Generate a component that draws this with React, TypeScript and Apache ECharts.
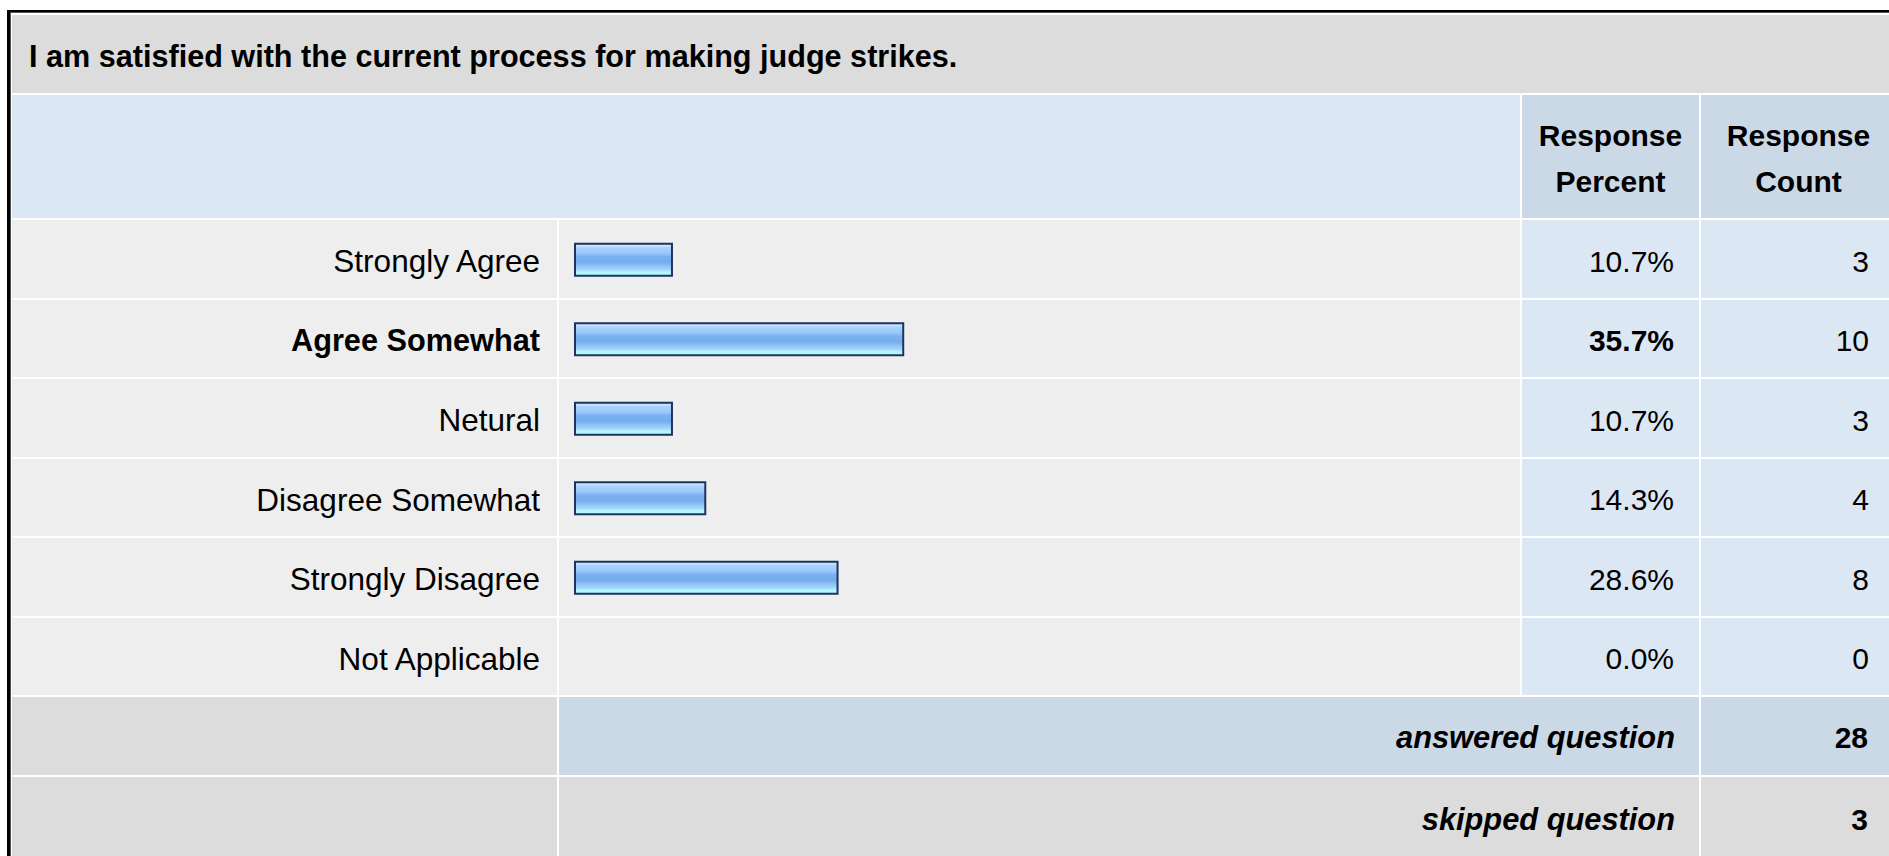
import React, { useEffect, useRef } from "react";
import * as echarts from "echarts";

const titleText = "I am satisfied with the current process for making judge strikes.";
const headerPercent = "Response\nPercent";
const headerCount = "Response\nCount";
const categories = [
  "Strongly Agree",
  "Agree Somewhat",
  "Netural",
  "Disagree Somewhat",
  "Strongly Disagree",
  "Not Applicable",
];
const percents = [10.7, 35.7, 10.7, 14.3, 28.6, 0.0];
const counts = [3, 10, 3, 4, 8, 0];
const answeredLabel = "answered question";
const skippedLabel = "skipped question";
const answeredCount = 28;
const skippedCount = 3;

const FONT = "'Liberation Sans', Arial, Helvetica, sans-serif";
const FS = 30;
const FS_LABEL = 31.5;
const FS_LABEL_BOLD = 30.7;
const FS_TITLE = 30.6;
const FS_FOOT = 30.8;

// layout
const X_LABEL = [12, 557];
const X_BAR = [559, 1520];
const X_PCT = [1522, 1699];
const X_CNT = [1701, 1896];
const TITLE_Y = [15, 93];
const HEAD_Y = [95, 218];
const ROW0 = 220;
const PITCH = 79.5;
const GAP = 2;

const C_TITLE = "#dcdcdc";
const C_HEAD = "#dce7f4";
const C_HEAD_DARK = "#cbd8e6";
const C_ROW = "#eeeeee";
const C_ROW_BLUE = "#dce7f4";

export default function App() {
  const ref = useRef<HTMLDivElement>(null);
  useEffect(() => {
    if (!ref.current) return;
    const chart = echarts.init(ref.current, undefined, { renderer: "svg" });
    const maxIdx = percents.indexOf(Math.max(...percents));

    const rowTop = (i: number) => Math.round(ROW0 + i * PITCH);
    const rowBottom = (i: number) => Math.round(ROW0 + (i + 1) * PITCH) - GAP;
    const rect = (x0: number, x1: number, y0: number, y1: number, fill: string) => ({
      type: "rect",
      z: -10,
      silent: true,
      shape: { x: x0, y: y0, width: x1 - x0, height: y1 - y0 },
      style: { fill },
    });
    const text = (
      t: string,
      x: number,
      y: number,
      align: string,
      opts: { bold?: boolean; italic?: boolean; lineHeight?: number; size?: number } = {}
    ) => ({
      type: "text",
      z: 10,
      silent: true,
      x,
      y,
      style: {
        text: t,
        fill: "#000",
        fontFamily: FONT,
        fontSize: opts.size || FS,
        fontWeight: opts.bold ? "bold" : "normal",
        fontStyle: opts.italic ? "italic" : "normal",
        lineHeight: opts.lineHeight,
        align,
        verticalAlign: "middle",
        textAlign: align,
        textVerticalAlign: "middle",
      },
    });

    const elements: any[] = [];
    // outer border
    elements.push(rect(7, 10, 10, 856, "#000"));
    elements.push(rect(10, 11, 12, 856, "#555"));
    elements.push(rect(7, 1889, 10, 12, "#000"));
    elements.push(rect(10, 1889, 12, 13, "#555"));
    // title
    elements.push(rect(X_LABEL[0], X_CNT[1], TITLE_Y[0], TITLE_Y[1], C_TITLE));
    elements.push(
      text(titleText, 29, (TITLE_Y[0] + TITLE_Y[1]) / 2 + 2, "left", { bold: true, size: FS_TITLE })
    );
    // header
    elements.push(rect(X_LABEL[0], X_BAR[1], HEAD_Y[0], HEAD_Y[1], C_HEAD));
    elements.push(rect(X_PCT[0], X_PCT[1], HEAD_Y[0], HEAD_Y[1], C_HEAD_DARK));
    elements.push(rect(X_CNT[0], X_CNT[1], HEAD_Y[0], HEAD_Y[1], C_HEAD_DARK));
    elements.push(text(headerPercent, (X_PCT[0] + X_PCT[1]) / 2, 158.5, "center", { bold: true, lineHeight: 46 }));
    elements.push(text(headerCount, (X_CNT[0] + X_CNT[1]) / 2, 158.5, "center", { bold: true, lineHeight: 46 }));
    // data rows
    categories.forEach((_, i) => {
      const y0 = rowTop(i);
      const y1 = rowBottom(i);
      const cy = (y0 + y1) / 2 + 2;
      elements.push(rect(X_LABEL[0], X_LABEL[1], y0, y1, C_ROW));
      elements.push(rect(X_BAR[0], X_BAR[1], y0, y1, C_ROW));
      elements.push(rect(X_PCT[0], X_PCT[1], y0, y1, C_ROW_BLUE));
      elements.push(rect(X_CNT[0], X_CNT[1], y0, y1, C_ROW_BLUE));
      elements.push(text(percents[i].toFixed(1) + "%", 1674, cy, "right", { bold: i === maxIdx }));
      elements.push(text(String(counts[i]), 1869, cy, "right"));
    });
    // answered
    {
      const i = categories.length;
      const y0 = rowTop(i);
      const y1 = rowBottom(i);
      const cy = (y0 + y1) / 2 + 1;
      elements.push(rect(X_LABEL[0], X_LABEL[1], y0, y1, C_TITLE));
      elements.push(rect(X_BAR[0], X_PCT[1], y0, y1, C_HEAD_DARK));
      elements.push(rect(X_CNT[0], X_CNT[1], y0, y1, C_HEAD_DARK));
      elements.push(text(answeredLabel, 1675, cy, "right", { bold: true, italic: true, size: FS_FOOT }));
      elements.push(text(String(answeredCount), 1868, cy, "right", { bold: true }));
    }
    // skipped
    {
      const i = categories.length + 1;
      const y0 = rowTop(i);
      const y1 = 856;
      const cy = (y0 + Math.round(ROW0 + (i + 1) * PITCH) - GAP) / 2 + 3.5;
      elements.push(rect(X_LABEL[0], X_LABEL[1], y0, y1, C_TITLE));
      elements.push(rect(X_BAR[0], X_PCT[1], y0, y1, C_TITLE));
      elements.push(rect(X_CNT[0], X_CNT[1], y0, y1, C_TITLE));
      elements.push(text(skippedLabel, 1675, cy, "right", { bold: true, italic: true, size: FS_FOOT }));
      elements.push(text(String(skippedCount), 1868, cy, "right", { bold: true }));
    }

    const barGradient = new echarts.graphic.LinearGradient(0, 0, 0, 1, [
      { offset: 0, color: "#cfe8ff" },
      { offset: 0.08, color: "#c2e1ff" },
      { offset: 0.12, color: "#a9d3fd" },
      { offset: 0.3, color: "#98c8f9" },
      { offset: 0.4, color: "#7bb1f0" },
      { offset: 0.58, color: "#74acee" },
      { offset: 0.68, color: "#8dbff5" },
      { offset: 0.82, color: "#a6d6fd" },
      { offset: 0.88, color: "#b2f6ff" },
      { offset: 1, color: "#b6fcff" },
    ]);

    chart.setOption({
      animation: false,
      backgroundColor: "#ffffff",
      graphic: { elements },
      grid: {
        left: 574,
        width: 925,
        top: ROW0,
        height: PITCH * categories.length,
        containLabel: false,
      },
      xAxis: { type: "value", min: 0, max: 100, show: false },
      yAxis: {
        type: "category",
        data: categories,
        inverse: true,
        axisLine: { show: false },
        axisTick: { show: false },
        splitLine: { show: false },
        axisLabel: {
          margin: 34,
          fontFamily: FONT,
          fontSize: FS_LABEL,
          color: "#000",
          formatter: (v: string) => (v === categories[maxIdx] ? `{b|${v}}` : `{n|${v}}`),
          rich: {
            b: {
              fontFamily: FONT,
              fontSize: FS_LABEL_BOLD,
              fontWeight: "bold",
              color: "#000",
              padding: [3, 0, 0, 0],
            },
            n: {
              fontFamily: FONT,
              fontSize: FS_LABEL,
              fontWeight: "normal",
              color: "#000",
              padding: [3, 0, 0, 0],
            },
          },
        },
      },
      series: [
        {
          type: "bar",
          barWidth: 34,
          data: percents.map((p) => ({
            value: p,
            itemStyle: p > 0 ? {} : { borderWidth: 0, opacity: 0 },
          })),
          itemStyle: {
            color: barGradient,
            borderColor: "#1c355e",
            borderWidth: 2,
          },
          silent: true,
        },
      ],
    });
    return () => chart.dispose();
  }, []);
  return (
    <div
      ref={ref}
      style={{ position: "absolute", left: 0, top: 0, width: 1889, height: 856 }}
    />
  );
}
